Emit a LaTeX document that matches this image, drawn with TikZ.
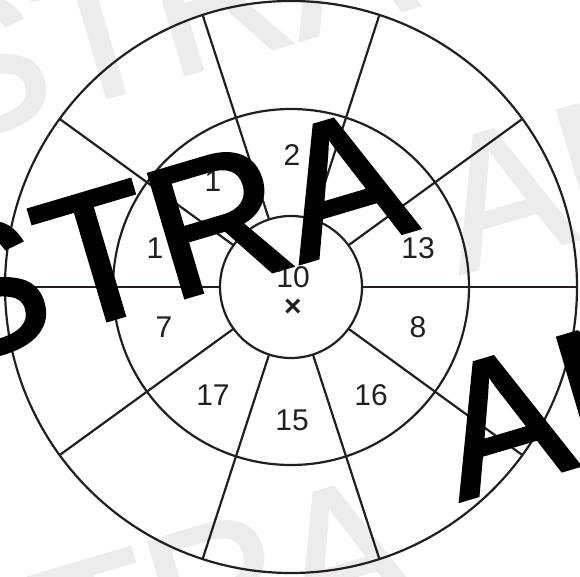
\documentclass[tikz,border=0pt]{standalone}
\usepackage{fontspec}
\setmainfont{Liberation Sans}
\newfontfamily\heavysans[FakeBold=1.8]{Liberation Sans}
\usetikzlibrary{calc}
\definecolor{linecol}{HTML}{231F20}
\begin{document}
\begin{tikzpicture}[x=1pt,y=-1pt,
  ln/.style={line width=2.2pt, draw=linecol},
  num/.style={font=\fontsize{30}{30}\selectfont, inner sep=0pt, text=linecol},
  big/.style={font=\heavysans\fontsize{187}{187}\selectfont, inner sep=0pt, anchor=base west, rotate=16.5},
  wm/.style={big, text=gray!15}]
\useasboundingbox (0,0) rectangle (580,577);
\fill[white] (0,0) rectangle (580,577);
% watermark
\node[wm] (w1) at (-58.6,146.7) {STRA};
\node[wm] (w2) at (460,274) {AN};
\node[wm] (w3) at (-58.6,737.7) {STRA};
% target
\coordinate (c) at (291,287);
\draw[ln] (c) circle[radius=71];
\draw[ln] (c) circle[radius=178];
\draw[ln] (c) circle[radius=286];
\foreach \a in {0,36,...,324}
  \draw[ln] ($(c)+(\a:71)$) -- ($(c)+(\a:286)$);
% labels
\node[num] (l2) at (292,155) {2};
\node[num] (l1a) at (213,181) {1};
\node[num] (l1b) at (155,248) {1};
\node[num] (l13) at (418,248) {13};
\node[num] (l10) at (293,277) {10};
\node[num, font=\fontsize{30}{30}\selectfont\bfseries] (lx) at (293,308) {×};
\node[num] (l7) at (164,327) {7};
\node[num] (l8) at (418,327) {8};
\node[num] (l17) at (213,395) {17};
\node[num] (l15) at (292,420) {15};
\node[num] (l16) at (371,395) {16};
% big text
\node[big] (t1) at (-58.6,369.7) {STRA};
\node[big] (t2) at (460,501) {AN};
\end{tikzpicture}
\end{document}
